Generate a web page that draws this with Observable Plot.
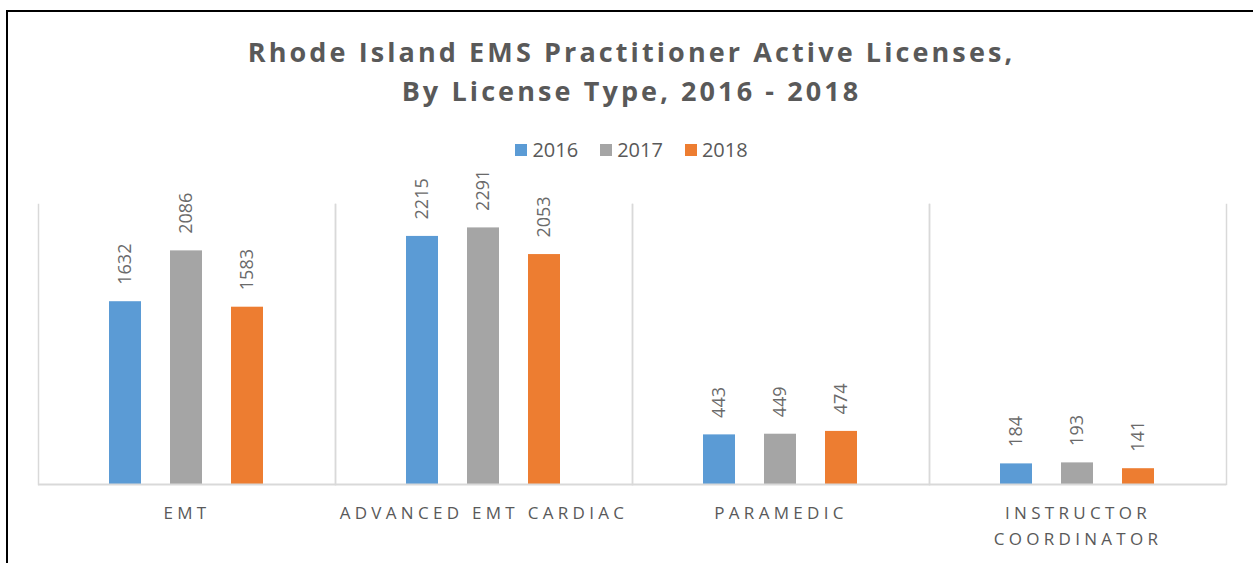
<!DOCTYPE html>
<html>
<head>
<meta charset="utf-8">
<script src="https://cdn.jsdelivr.net/npm/d3@7"></script>
<script src="https://cdn.jsdelivr.net/npm/@observablehq/plot@0.6"></script>
<style>
  html, body { margin: 0; padding: 0; overflow: hidden; background: #fff; }
  #wrap { position: relative; width: 1253px; height: 563px; overflow: hidden; font-family: "Open Sans", sans-serif; }
  #border { position: absolute; left: 6px; top: 10px; width: 2000px; height: 2000px; border-left: 2px solid #000; border-top: 2px solid #000; pointer-events: none; z-index: 2; }
  #header { position: absolute; left: 37px; top: 0; width: 1189px; height: 160px; text-align: center; color: #595959; }
  #title { position: absolute; left: 0; right: 0; top: 32px; font-size: 27px; font-weight: 700; letter-spacing: 3.1px; line-height: 39px; }
  #legend { position: absolute; left: 0; right: 0; top: 138px; display: flex; justify-content: center; align-items: center; font-size: 20px; line-height: 24px; }
  #legend .item { display: flex; align-items: center; margin: 0 11px; }
  #legend .sw { width: 12px; height: 12px; margin-right: 5px; }
  #chart { position: absolute; left: 0; top: 160px; }
  g[aria-label="fx-axis tick label"] text { letter-spacing: 4.3px; }
</style>
</head>
<body>
<div id="wrap">
  <div id="header">
    <div id="title">Rhode Island EMS Practitioner Active Licenses,<br>By License Type, 2016 - 2018</div>
    <div id="legend"></div>
  </div>
  <div id="chart"></div>
  <div id="border"></div>
</div>
<script>
const categories = ["EMT", "ADVANCED EMT CARDIAC", "PARAMEDIC", "INSTRUCTOR COORDINATOR"];
const categoryLabels = ["EMT", "ADVANCED EMT CARDIAC", "PARAMEDIC", "INSTRUCTOR\nCOORDINATOR"];
const years = ["2016", "2017", "2018"];
const values2016 = [1632, 2215, 443, 184];
const values2017 = [2086, 2291, 449, 193];
const values2018 = [1583, 2053, 474, 141];
const colors = ["#5B9BD5", "#A5A5A5", "#ED7D31"];

const series = [values2016, values2017, values2018];
const data = [];
categories.forEach((c, i) => {
  years.forEach((y, j) => data.push({category: c, year: y, value: series[j][i]}));
});

const legend = document.getElementById("legend");
years.forEach((y, j) => {
  const item = document.createElement("div");
  item.className = "item";
  item.innerHTML = `<span class="sw" style="background:${colors[j]}"></span><span>${y}</span>`;
  legend.appendChild(item);
});

const labelMap = new Map(categories.map((c, i) => [c, categoryLabels[i]]));

const chart = Plot.plot({
  width: 1253,
  height: 403,
  marginTop: 44,
  marginBottom: 79,
  marginLeft: 37,
  marginRight: 27,
  style: {fontFamily: "Open Sans, sans-serif", color: "#595959", background: "white", overflow: "visible"},
  fx: {domain: categories, padding: 0, label: null, axis: null},
  x: {domain: years, paddingInner: 0.475, paddingOuter: 1.164, axis: null},
  y: {domain: [0, 2500], axis: null},
  color: {domain: years, range: colors},
  marks: [
    Plot.frame({anchor: "left", stroke: "#d9d9d9", strokeWidth: 1.5}),
    Plot.frame({anchor: "right", stroke: "#d9d9d9", strokeWidth: 1.5}),
    Plot.barY(data, {fx: "category", x: "year", y: "value", fill: "year"}),
    Plot.ruleY([0], {stroke: "#d9d9d9", strokeWidth: 2}),
    Plot.text(data, {fx: "category", x: "year", y: "value", text: d => String(d.value), rotate: -90, textAnchor: "start", dy: -17, fill: "#6a6a6a", fontSize: 18}),
    Plot.axisFx({anchor: "bottom", tickSize: 0, tickPadding: 16, fontSize: 17, lineHeight: 1.53, fill: "#595959", label: null, tickFormat: d => labelMap.get(d)})
  ]
});
document.getElementById("chart").appendChild(chart);
</script>
</body>
</html>
